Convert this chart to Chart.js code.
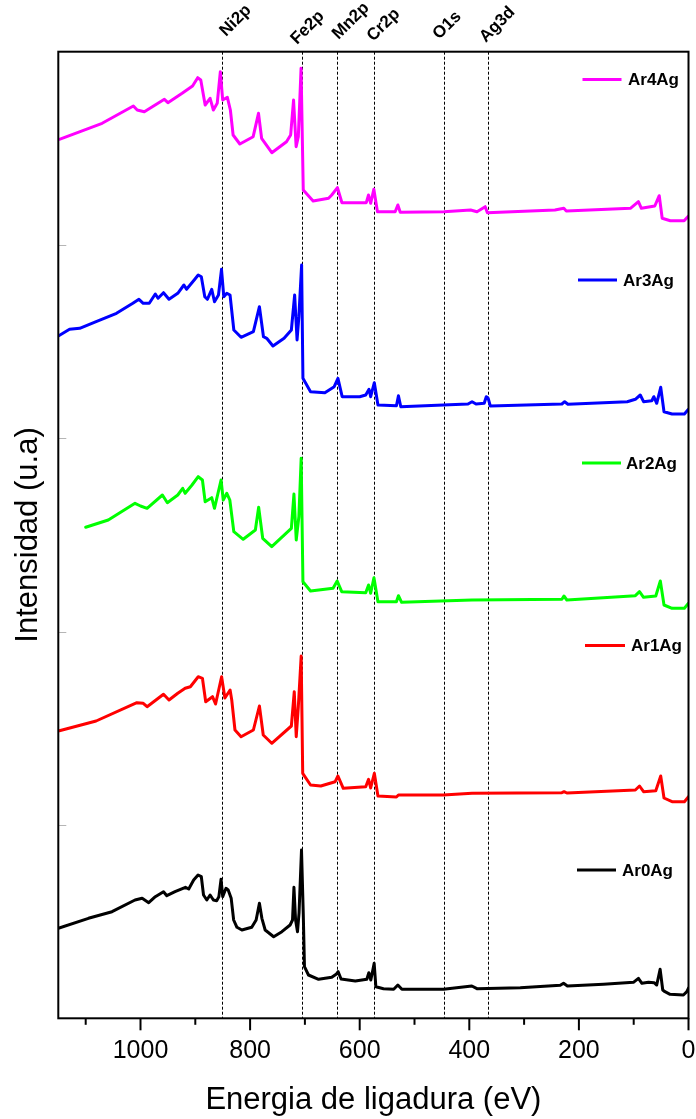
<!DOCTYPE html>
<html>
<head>
<meta charset="utf-8">
<title>XPS survey</title>
<script src="https://cdn.jsdelivr.net/npm/chart.js@4.4.1/dist/chart.umd.min.js"></script>
<style>
  html, body { margin: 0; padding: 0; background: #fff; }
  canvas { display: block; }
</style>
</head>
<body>
<canvas id="xps" width="696" height="1119"></canvas>
<script>
// Binding energy axis
const energyTicks = [0, 100, 200, 300, 400, 500, 600, 700, 800, 900, 1000, 1100];
const energyLabels = ['0', '', '200', '', '400', '', '600', '', '800', '', '1000', ''];
const intensityTicks = [193.3, 386.6, 580, 773.3];

// Reference core levels (dashed guides)
const peakNames = ['Ni2p', 'Fe2p', 'Mn2p', 'Cr2p', 'O1s', 'Ag3d'];
const peakEnergies = [851.5, 705.5, 640.6, 573.6, 446, 366.5];

// Series names and colours
const seriesNames = ['Ar0Ag', 'Ar1Ag', 'Ar2Ag', 'Ar3Ag', 'Ar4Ag'];
const seriesColors = ['#000000', '#ff0000', '#00ff00', '#0000ff', '#ff00ff'];

// Spectra (stacked, arbitrary units)
const ar0Energy = [1150, 1095, 1052, 1010, 997, 985, 973, 958, 952, 937, 918, 912, 903, 895, 889, 885, 879, 873, 867, 861, 857, 853, 850, 844, 840, 834.5, 830, 824, 815, 797, 789, 783, 778.5, 772.5, 757, 742, 727, 722.6, 720, 717, 713.5, 710.7, 706.2, 703, 700.8, 693.5, 675, 651, 643, 639.3, 634, 608, 587, 583.3, 579.7, 573.6, 570.5, 556.6, 538, 530.4, 523, 447, 395.4, 386, 307, 234, 228, 221, 155, 100.5, 91.4, 85, 73, 62.8, 58, 51.8, 47, 43, 33.6, 9.3, 3, 0];
const ar0Counts = [90, 100, 106.6, 118.3, 120, 115.6, 121.6, 126.6, 122.6, 126.6, 131, 129.3, 138.3, 143.3, 141.6, 123.3, 118.3, 123.3, 118.3, 117.6, 121.6, 139, 121.6, 130, 128.3, 120, 98.3, 91, 88.3, 91, 98.3, 115, 100, 88.3, 81.6, 86.6, 93.3, 98.3, 131, 98.3, 86.6, 105.3, 168.3, 105, 51.6, 43.3, 39, 41, 44, 46.6, 39.3, 37.3, 39, 45.6, 38.3, 55, 31.6, 29.6, 29, 33.3, 29, 29, 32.3, 29.6, 30.6, 33, 35, 32.3, 34, 36, 40, 35, 36, 35.6, 33.3, 49, 28.3, 26.6, 24, 23.3, 26.6, 30.3];

const ar1Energy = [1148, 1081, 1006.6, 995, 988, 958, 948, 932, 918.5, 909, 894.7, 887, 881, 868.6, 863, 852, 846, 836.5, 833.5, 827.6, 816.5, 794, 783, 776, 760.5, 724.7, 719.4, 715.8, 712, 706.8, 704, 689.7, 671, 644.8, 639.7, 630, 589, 583.8, 580, 573.3, 566.7, 533, 529.3, 447.4, 395, 231, 227, 222, 97, 89.4, 82, 59.7, 50.7, 44.7, 30, 7.5, 0];
const ar1Counts = [287.6, 297.3, 315.6, 315, 311.6, 324, 318.3, 325, 330, 331.6, 341.6, 340, 316.6, 321.6, 314.3, 341.6, 320.3, 328.3, 318.3, 288.3, 281.6, 288.3, 312.3, 283.3, 275, 292.3, 326.6, 281.6, 311.6, 362.3, 245, 233.3, 232.3, 236.6, 242.3, 230, 231.6, 239, 230.3, 245, 222.3, 221.3, 223.3, 223.3, 225, 225.6, 226.6, 225.3, 228.3, 232.3, 226.6, 227.6, 242.3, 220.3, 216.6, 216.6, 221.6];

const ar2Energy = [1100, 1058.8, 1010, 1000, 988, 960, 951, 932, 923, 918.5, 906, 894.7, 887, 882, 870, 865, 853, 849, 842.5, 837, 829.7, 812.6, 790.4, 784.4, 777, 760.5, 724.7, 720, 715.8, 711, 706.8, 703.6, 689.7, 648.6, 641.1, 632.8, 589, 583.8, 580, 574, 566.7, 533, 529.3, 523.5, 395, 231, 227.3, 222, 97, 89.4, 82, 59.7, 51.4, 44.7, 30, 7.5, 0];
const ar2Counts = [491, 498.3, 515, 512.3, 510, 523.3, 515.6, 523.3, 530, 525, 533.3, 541.6, 538.3, 516.6, 520.6, 510, 538.3, 518.3, 525, 518.3, 486.6, 479, 488.3, 511, 480, 471.6, 490, 524.3, 478.3, 501.6, 560, 436.6, 427.3, 430, 437.3, 426.6, 425.6, 433.3, 425, 440.6, 416.6, 416.6, 422.6, 416, 418.3, 419, 422.3, 418.3, 422.6, 426.6, 421, 422.3, 437.3, 413.3, 410, 410, 415];

const ar3Energy = [1150, 1129.5, 1111, 1081, 1043.8, 1014, 1002.8, 995, 984, 973, 968, 958, 948, 932, 920.8, 916, 902, 894.7, 889, 882.7, 878, 870, 865, 857.7, 852.2, 848, 842.5, 836.6, 829.7, 816.5, 794, 783, 775.6, 769.7, 758.3, 738, 724.7, 718.7, 714.3, 711, 706, 703.6, 689.7, 663.6, 646.5, 639.7, 632, 600, 589, 583, 580, 573.3, 566.7, 533, 529.3, 525, 447.4, 402.4, 395, 387.7, 372.8, 369, 365.5, 361.7, 231, 226, 220, 111.8, 97, 88, 82, 67, 63.3, 58, 50.7, 44.7, 30, 7.5, 0];
const ar3Counts = [682.3, 689, 690, 696.6, 705, 715, 719, 715, 715, 724.3, 720, 725.6, 719, 725, 733.3, 729, 738.3, 743.3, 741.6, 721.6, 719, 729, 716.6, 723.3, 749, 721.6, 725, 723.3, 688.3, 681, 686.6, 711.6, 681.6, 680, 672.3, 680, 688.3, 723.3, 678.3, 701.6, 753.3, 640, 626.6, 625.6, 631.6, 640, 621.6, 621.6, 623.3, 629, 621.6, 635.6, 613.3, 612.6, 622.6, 611.6, 613.3, 614.3, 616.6, 614.3, 615, 621.6, 620, 612.3, 614.3, 616.6, 614, 616.6, 619, 623.3, 616.6, 617.6, 621.6, 615, 631, 606.6, 604.3, 604.3, 609];

const ar4Energy = [1148, 1070, 1013, 1006, 993, 956.4, 950, 924, 905, 895.6, 890, 882, 873, 867, 860, 854.3, 850, 841.5, 836, 831, 818.7, 794.4, 784.7, 779, 760.4, 733.6, 726, 720.7, 716, 712, 707, 703, 685, 656.8, 651, 640.6, 632.4, 588, 583.9, 580, 574.2, 567.6, 535.3, 530.4, 526, 446.3, 397.6, 386, 371, 367, 243.7, 227.5, 223, 106, 91.4, 86, 61.5, 53.4, 48, 33.2, 8, 0];
const ar4Counts = [879, 895, 912.3, 908.3, 906.6, 919, 915.6, 925, 932.3, 940.6, 938.3, 913.3, 920, 908.3, 915, 946.6, 918.3, 921, 908.3, 883.3, 874.3, 881.6, 905, 880, 865.6, 876.6, 883.3, 918.3, 871.6, 881.6, 950, 828.3, 817.3, 820, 823.3, 830.6, 815.6, 815.6, 823.3, 815, 829, 806.6, 806.6, 813.3, 806, 806.6, 808.3, 806.6, 811.6, 805.6, 808.3, 810, 807.3, 810, 816.6, 810, 812.3, 822.6, 800, 797.6, 797.6, 802.3];

const seriesEnergy = [ar0Energy, ar1Energy, ar2Energy, ar3Energy, ar4Energy];
const seriesCounts = [ar0Counts, ar1Counts, ar2Counts, ar3Counts, ar4Counts];

// Page layout (pixels)
const FONT = 'Arial, "Liberation Sans", sans-serif';
const legendBoxes = [
  { x0: 577, x1: 616, y: 870, tx: 622 },
  { x0: 585, x1: 625, y: 645.5, tx: 631 },
  { x0: 582, x1: 621, y: 463, tx: 626 },
  { x0: 578, x1: 617, y: 280, tx: 623 },
  { x0: 582.5, x1: 621.5, y: 79.5, tx: 628 }
];
const labelNudge = [[4, 37], [-5, 45], [1, 40], [-1, 42], [-5, 40], [-2, 43]];

const datasets = seriesNames.map((name, i) => ({
  label: name,
  data: seriesEnergy[i].map((e, k) => ({ x: e, y: seriesCounts[i][k] })),
  borderColor: seriesColors[i],
  backgroundColor: seriesColors[i],
  borderWidth: 3,
  pointRadius: 0,
  tension: 0,
  fill: false,
  borderJoinStyle: 'round',
  borderCapStyle: 'round'
}));

const decorations = {
  id: 'decorations',
  beforeDatasetsDraw(chart) {
    const { ctx, chartArea: a, scales: { x } } = chart;
    ctx.save();
    ctx.strokeStyle = '#000';
    ctx.lineWidth = 1;
    ctx.setLineDash([3, 2]);
    peakEnergies.forEach(e => {
      const px = Math.round(x.getPixelForValue(e)) + 0.5;
      ctx.beginPath();
      ctx.moveTo(px, a.top);
      ctx.lineTo(px, a.bottom);
      ctx.stroke();
    });
    ctx.restore();
  },
  afterDraw(chart) {
    const { ctx, chartArea: a, scales: { x, y } } = chart;
    ctx.save();

    // faint inner ticks on the intensity axis
    ctx.strokeStyle = '#b5b5b5';
    ctx.lineWidth = 1;
    intensityTicks.forEach(v => {
      const py = Math.round(y.getPixelForValue(v)) + 0.5;
      ctx.beginPath();
      ctx.moveTo(a.left, py);
      ctx.lineTo(a.left + 8, py);
      ctx.stroke();
    });

    // frame
    ctx.strokeStyle = '#000';
    ctx.lineWidth = 2;
    ctx.strokeRect(a.left, a.top, a.right - a.left, a.bottom - a.top);

    // outward ticks on the energy axis (long on labelled values)
    ctx.lineWidth = 2;
    energyTicks.forEach((v, i) => {
      const px = x.getPixelForValue(v);
      const len = energyLabels[i] ? 12 : 6.5;
      ctx.beginPath();
      ctx.moveTo(px, a.bottom);
      ctx.lineTo(px, a.bottom + len);
      ctx.stroke();
    });

    // series key
    ctx.font = 'bold 17px ' + FONT;
    ctx.textBaseline = 'middle';
    ctx.textAlign = 'left';
    legendBoxes.forEach((b, i) => {
      ctx.strokeStyle = seriesColors[i];
      ctx.lineWidth = 3;
      ctx.beginPath();
      ctx.moveTo(b.x0, b.y);
      ctx.lineTo(b.x1, b.y);
      ctx.stroke();
      ctx.fillStyle = '#000';
      ctx.fillText(seriesNames[i], b.tx, b.y + 1);
    });

    // core level names, slanted
    ctx.textBaseline = 'alphabetic';
    ctx.fillStyle = '#000';
    peakNames.forEach((name, i) => {
      const px = x.getPixelForValue(peakEnergies[i]) + labelNudge[i][0];
      ctx.save();
      ctx.translate(px, labelNudge[i][1]);
      ctx.rotate(-Math.PI / 4);
      ctx.fillText(name, 0, 0);
      ctx.restore();
    });

    ctx.restore();
  }
};

new Chart(document.getElementById('xps'), {
  type: 'line',
  data: { datasets },
  options: {
    responsive: false,
    animation: false,
    parsing: true,
    layout: { padding: { top: 51.7, right: 7.5, left: 0, bottom: 0 } },
    plugins: { legend: { display: false }, tooltip: { enabled: false } },
    scales: {
      x: {
        type: 'linear',
        reverse: true,
        min: 0,
        max: 1150,
        afterBuildTicks: s => { s.ticks = energyTicks.map(v => ({ value: v })); },
        afterFit: s => { s.height = 100.7; },
        grid: { drawOnChartArea: false, drawTicks: true, tickLength: 12, color: 'transparent', tickColor: 'transparent' },
        border: { display: false },
        ticks: {
          autoSkip: false,
          maxRotation: 0,
          padding: 6,
          color: '#000',
          font: { family: FONT, size: 25 },
          callback: (v) => {
            const i = energyTicks.indexOf(v);
            return i >= 0 ? energyLabels[i] : '';
          }
        },
        title: {
          display: true,
          text: 'Energia de ligadura (eV)',
          color: '#000',
          font: { family: FONT, size: 31 },
          padding: { top: 0, bottom: 0 }
        }
      },
      y: {
        min: 0,
        max: 966.6,
        afterFit: s => { s.width = 58.3; },
        ticks: { display: false },
        grid: { display: false },
        border: { display: false },
        title: {
          display: true,
          text: 'Intensidad (u.a)',
          color: '#000',
          font: { family: FONT, size: 31 },
          padding: { top: 9.7, bottom: 0 }
        }
      }
    }
  },
  plugins: [decorations]
});
</script>
</body>
</html>
